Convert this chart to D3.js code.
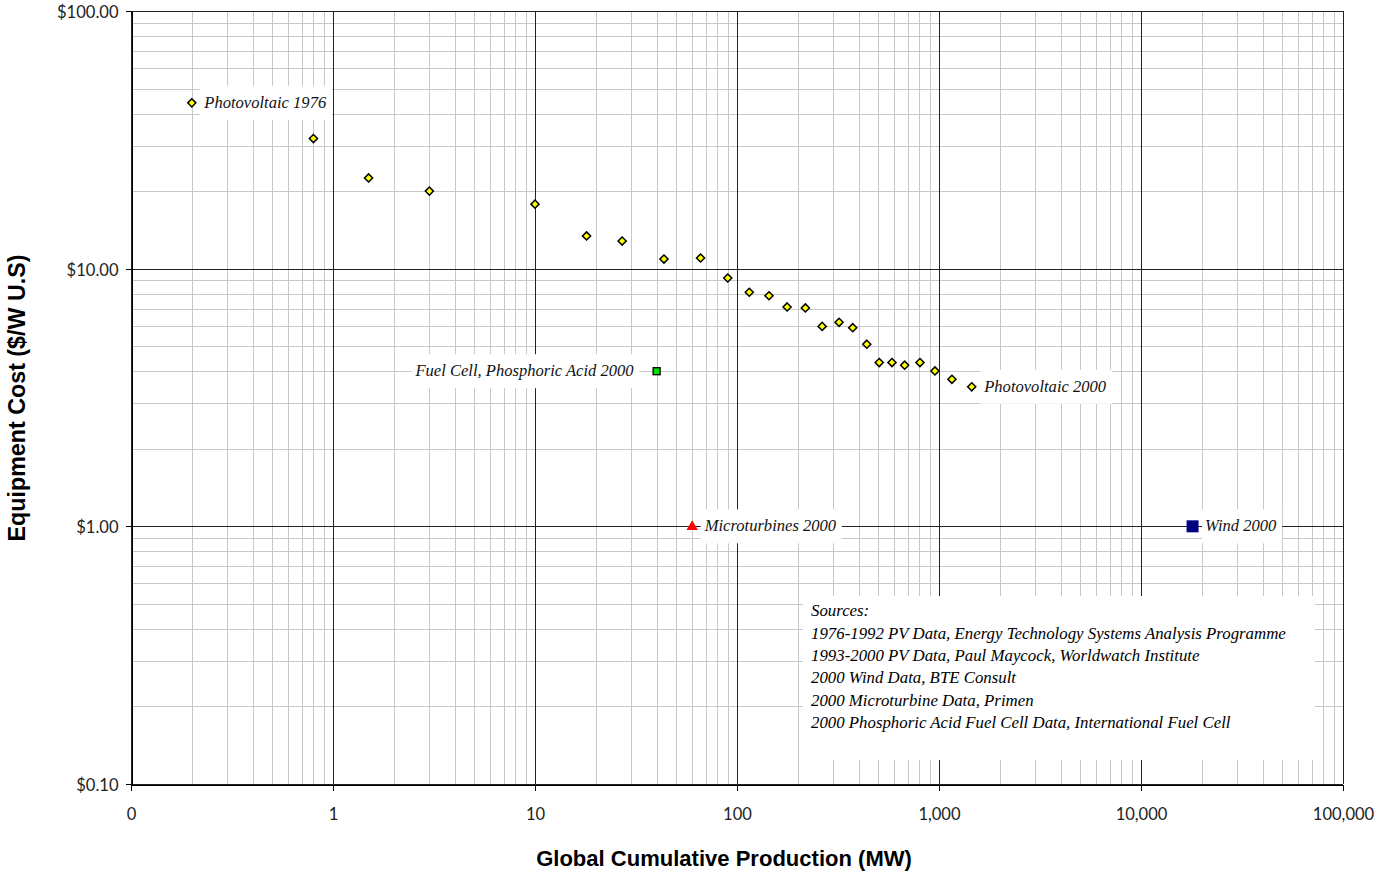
<!DOCTYPE html>
<html><head><meta charset="utf-8">
<script src="https://cdn.jsdelivr.net/npm/d3@7"></script>
<style>
html,body{margin:0;padding:0;background:#fff;}
svg{display:block;}
</style></head>
<body>
<svg id="chart" width="1374" height="876"></svg>
<script>
// ---- Data ----
const pvProduction = [0.2, 0.8, 1.5, 3, 10, 18, 27, 43.5, 66, 90, 115, 144, 177, 218, 264, 320, 374, 439, 506, 585, 676, 805, 955, 1159, 1452];
const pvCost       = [44, 32, 22.5, 20, 17.8, 13.4, 12.8, 10.9, 11.0, 9.2, 8.1, 7.85, 7.1, 7.04, 5.97, 6.19, 5.9, 5.09, 4.32, 4.32, 4.22, 4.32, 4.01, 3.72, 3.48];
const fuelCellProduction = [40];
const fuelCellCost       = [4.0];
const microProduction = [60];
const microCost       = [1.0];
const windProduction = [18000];
const windCost       = [1.0];

const xTickValues = [0.1, 1, 10, 100, 1000, 10000, 100000];
const xTickLabels = ["0", "1", "10", "100", "1,000", "10,000", "100,000"];
const yTickValues = [0.1, 1, 10, 100];
const yTickLabels = ["$0.10", "$1.00", "$10.00", "$100.00"];

const xTitle = "Global Cumulative Production (MW)";
const yTitle = "Equipment Cost ($/W U.S)";
const sourcesLines = [
  "Sources:",
  "1976-1992 PV Data, Energy Technology Systems Analysis Programme",
  "1993-2000 PV Data, Paul Maycock, Worldwatch Institute",
  "2000 Wind Data, BTE Consult",
  "2000 Microturbine Data, Primen",
  "2000 Phosphoric Acid Fuel Cell Data, International Fuel Cell"
];

// ---- Layout ----
const L = 131, R = 1343, T = 11, B = 784;
const svg = d3.select("#chart");
const x = d3.scaleLog().domain([0.1, 100000]).range([L, R]);
const y = d3.scaleLog().domain([0.1, 100]).range([B, T]);

// font fitting helper
function fitSize(family, weight, style, str, target) {
  const t = svg.append("text").attr("font-family", family).attr("font-weight", weight)
    .attr("font-style", style).attr("font-size", 100).text(str);
  const w = t.node().getComputedTextLength();
  t.remove();
  return 100 * target / w;
}
const tickFont = "Lato, 'Open Sans', sans-serif";
const serifFont = "'Liberation Serif', 'Times New Roman', serif";
const boldFont = "'Liberation Sans', Arial, sans-serif";
const tickSize = (fitSize(tickFont, "normal", "normal", "$100.00", 65) + fitSize(tickFont, "normal", "normal", "100,000", 58)) / 2;
const labelSize = fitSize(serifFont, "normal", "italic", "Photovoltaic 1976", 122);
const srcSize = fitSize(serifFont, "normal", "italic", sourcesLines[1], 475);
const titleSize = fitSize(boldFont, "bold", "normal", xTitle, 376);
const yTitleSize = fitSize(boldFont, "bold", "normal", yTitle, 287);

const crisp = v => Math.round(v) + 0.5;

// ---- Grid ----
const grid = svg.append("g").attr("shape-rendering", "crispEdges");
const isMajor = v => Math.abs(Math.log10(v) - Math.round(Math.log10(v))) < 1e-9;
const xAll = x.ticks(30);
const yAll = y.ticks(30);
grid.selectAll(".vmin").data(xAll.filter(v => !isMajor(v))).join("line")
  .attr("x1", d => crisp(x(d))).attr("x2", d => crisp(x(d))).attr("y1", T).attr("y2", B)
  .attr("stroke", "#c8c8c8").attr("stroke-width", 1);
grid.selectAll(".hmin").data(yAll.filter(v => !isMajor(v))).join("line")
  .attr("y1", d => crisp(y(d))).attr("y2", d => crisp(y(d))).attr("x1", L).attr("x2", R)
  .attr("stroke", "#c8c8c8").attr("stroke-width", 1);
grid.selectAll(".vmaj").data(xTickValues).join("line")
  .attr("x1", d => crisp(x(d))).attr("x2", d => crisp(x(d))).attr("y1", T).attr("y2", B)
  .attr("stroke", "#222").attr("stroke-width", 1);
grid.selectAll(".hmaj").data(yTickValues).join("line")
  .attr("y1", d => crisp(y(d))).attr("y2", d => crisp(y(d))).attr("x1", L).attr("x2", R)
  .attr("stroke", "#222").attr("stroke-width", 1);

// ---- Layers ----
const boxLayer = svg.append("g");
const axisLayer = svg.append("g");
const markLayer = svg.append("g");
const textLayer = svg.append("g");

// ---- Sources box ----
boxLayer.append("rect").attr("x", 803).attr("y", 596).attr("width", 512).attr("height", 164).attr("fill", "#fff");
textLayer.append("g").selectAll("text").data(sourcesLines).join("text")
  .attr("x", 811).attr("y", (d, i) => 610 + i * 22.4 + (i > 0 ? 0.6 : 0))
  .attr("dominant-baseline", "central")
  .attr("font-family", serifFont).attr("font-style", "italic").attr("font-size", srcSize)
  .attr("fill", "#000").text(d => d);

// ---- Axes ----
const xAxis = d3.axisBottom(x).tickValues(xTickValues).tickFormat((d, i) => xTickLabels[i]).tickSize(6).tickSizeOuter(0);
const yAxis = d3.axisLeft(y).tickValues(yTickValues).tickFormat((d, i) => yTickLabels[i]).tickSize(6).tickSizeOuter(0);
const gx = axisLayer.append("g").attr("transform", `translate(0.5,${B + 0.5})`).call(xAxis);
const gy = axisLayer.append("g").attr("transform", `translate(${L + 0.5},0.5)`).call(yAxis);
[gx, gy].forEach(g => {
  g.select(".domain").attr("stroke", "#000").attr("shape-rendering", "crispEdges");
  g.selectAll(".tick line").attr("stroke", "#000").attr("shape-rendering", "crispEdges");
  g.selectAll(".tick text").attr("font-family", tickFont).attr("font-size", tickSize).attr("fill", "#222");
});
gx.selectAll(".tick").attr("transform", d => `translate(${crisp(x(d)) - 0.5},0)`);
gy.selectAll(".tick").attr("transform", d => `translate(0,${crisp(y(d)) - 0.5})`);
gx.selectAll(".tick text").attr("y", 29).attr("dy", null).attr("dominant-baseline", "central");
gy.selectAll(".tick text").attr("x", -13).attr("dy", null).attr("dominant-baseline", "central");

// ---- Axis titles ----
textLayer.append("text").attr("x", 724).attr("y", 858).attr("text-anchor", "middle")
  .attr("dominant-baseline", "central").attr("font-family", boldFont).attr("font-weight", "bold")
  .attr("font-size", titleSize).attr("fill", "#000").text(xTitle);
textLayer.append("text").attr("transform", "translate(17,398) rotate(-90)").attr("text-anchor", "middle")
  .attr("dominant-baseline", "central").attr("font-family", boldFont).attr("font-weight", "bold")
  .attr("font-size", yTitleSize).attr("fill", "#000").text(yTitle);

// ---- Markers ----
const pv = pvProduction.map((v, i) => [v, pvCost[i]]);
markLayer.selectAll(".pv").data(pv).join("path")
  .attr("d", d3.symbol(d3.symbolDiamond2, 42))
  .attr("transform", d => `translate(${x(d[0])},${y(d[1])})`)
  .attr("fill", "#ffff00").attr("stroke", "#000").attr("stroke-width", 1.5);
const fc = fuelCellProduction.map((v, i) => [v, fuelCellCost[i]]);
markLayer.selectAll(".fc").data(fc).join("rect")
  .attr("x", d => x(d[0]) - 3.5).attr("y", d => y(d[1]) - 3.5).attr("width", 7).attr("height", 7)
  .attr("fill", "#00e000").attr("stroke", "#000").attr("stroke-width", 1.3);
const mt = microProduction.map((v, i) => [v, microCost[i]]);
markLayer.selectAll(".mt").data(mt).join("path")
  .attr("d", d3.symbol(d3.symbolTriangle, 56))
  .attr("transform", d => `translate(${x(d[0])},${y(d[1]) + 0.5})`)
  .attr("fill", "#ff0000");
const wd = windProduction.map((v, i) => [v, windCost[i]]);
markLayer.selectAll(".wd").data(wd).join("rect")
  .attr("x", d => x(d[0]) - 6).attr("y", d => y(d[1]) - 6).attr("width", 12).attr("height", 12)
  .attr("fill", "#000080");

// ---- Point labels with white boxes ----
const pointLabels = [
  { text: "Photovoltaic 1976", p: pv[0], side: "right" },
  { text: "Photovoltaic 2000", p: pv[pv.length - 1], side: "right" },
  { text: "Fuel Cell, Phosphoric Acid 2000", p: fc[0], side: "left" },
  { text: "Microturbines 2000", p: mt[0], side: "right" },
  { text: "Wind 2000", p: wd[0], side: "right" }
];
pointLabels.forEach(lb => {
  const px = x(lb.p[0]), py = y(lb.p[1]);
  const t = textLayer.append("text")
    .attr("x", lb.side === "right" ? px + 12.5 : px - 23)
    .attr("y", py - 0.5)
    .attr("text-anchor", lb.side === "right" ? "start" : "end")
    .attr("dominant-baseline", "central")
    .attr("font-family", serifFont).attr("font-style", "italic").attr("font-size", labelSize)
    .attr("fill", "#111").text(lb.text);
  const bb = t.node().getBBox();
  boxLayer.append("rect").attr("x", bb.x - 3).attr("y", py - 17).attr("width", bb.width + 8).attr("height", 34)
    .attr("fill", "#fff");
});
</script>
</body></html>
